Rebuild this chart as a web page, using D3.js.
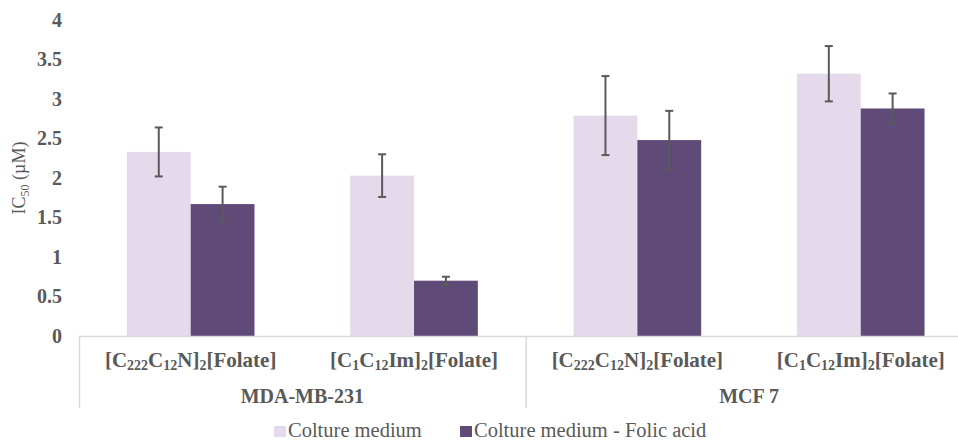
<!DOCTYPE html>
<html lang="en">
<head>
    <meta charset="UTF-8">
    <title>IC50 chart</title>
    <script src="https://d3js.org/d3.v7.min.js"></script>
    <style>
        body { margin: 0; background: #fff; font-family: "Liberation Serif", "Times New Roman", serif; }
        svg { display: block; }
    </style>
</head>
<body>
    <div id="chart"></div>
    <script>
        // Data
        const compounds = ["[C_{222}C_{12}N]_{2}[Folate]", "[C_{1}C_{12}Im]_{2}[Folate]",
                           "[C_{222}C_{12}N]_{2}[Folate]", "[C_{1}C_{12}Im]_{2}[Folate]"];
        const cellLines = ["MDA-MB-231", "MCF 7"];
        const series = ["Colture medium", "Colture medium - Folic acid"];
        const medium = [2.33, 2.03, 2.79, 3.32];
        const mediumErr = [0.31, 0.27, 0.50, 0.35];
        const folic = [1.67, 0.70, 2.48, 2.88];
        const folicErr = [0.22, 0.05, 0.37, 0.19];
        const yTicks = [0, 0.5, 1, 1.5, 2, 2.5, 3, 3.5, 4];

        const width = 958, height = 442;
        const colors = ["#e4daeb", "#5f4a78"];
        const textColor = "#595959";
        const lineColor = "#d9d9d9";

        const rows = compounds.map((c, i) => ({
            key: i, label: c, group: cellLines[Math.floor(i / 2)],
            values: [
                { s: 0, v: medium[i], e: mediumErr[i] },
                { s: 1, v: folic[i], e: folicErr[i] }
            ]
        }));

        const svg = d3.select("#chart").append("svg")
            .attr("width", width).attr("height", height);

        // plot area: left edge at 79, right edge runs off the window like the original
        const x0 = d3.scaleBand().domain(rows.map(d => d.key)).range([79, 972.4]).padding(0);
        const x1 = d3.scaleBand().domain([0, 1]).range([0, x0.bandwidth()])
            .paddingInner(0).paddingOuter(0.75);
        const y = d3.scaleLinear().domain([0, 4]).range([336, 20]);

        // y axis labels
        const yAxis = svg.append("g")
            .attr("transform", "translate(79,0)")
            .call(d3.axisLeft(y).tickValues(yTicks).tickSize(0).tickPadding(17).tickFormat(d3.format("")));
        yAxis.select(".domain").remove();
        yAxis.selectAll("text")
            .attr("fill", textColor)
            .style("font-family", "'Liberation Serif', serif")
            .style("font-size", "20px")
            .style("font-weight", "bold");

        // y title
        const yTitle = svg.append("text")
            .attr("transform", "translate(25," + y(2) + ") rotate(-90)")
            .attr("text-anchor", "middle")
            .attr("fill", textColor)
            .style("font-size", "18px");
        yTitle.append("tspan").text("IC");
        yTitle.append("tspan").attr("dy", 4).style("font-size", "12px").text("50");
        yTitle.append("tspan").attr("dy", -4).text(" (\u00b5M)");

        // bars
        const groups = svg.append("g").selectAll("g")
            .data(rows).join("g")
            .attr("transform", d => `translate(${x0(d.key)},0)`);

        groups.selectAll("rect")
            .data(d => d.values).join("rect")
            .attr("x", d => x1(d.s))
            .attr("y", d => y(d.v))
            .attr("width", x1.bandwidth())
            .attr("height", d => y(0) - y(d.v))
            .attr("fill", d => colors[d.s]);

        // error bars
        const err = groups.selectAll("g.err")
            .data(d => d.values).join("g")
            .attr("class", "err")
            .attr("stroke", "#5a5a5a")
            .attr("stroke-width", 2);
        err.append("line")
            .attr("x1", d => x1(d.s) + x1.bandwidth() / 2)
            .attr("x2", d => x1(d.s) + x1.bandwidth() / 2)
            .attr("y1", d => y(d.v + d.e))
            .attr("y2", d => y(d.v - d.e));
        [1, -1].forEach(sign => {
            err.append("line")
                .attr("x1", d => x1(d.s) + x1.bandwidth() / 2 - 4)
                .attr("x2", d => x1(d.s) + x1.bandwidth() / 2 + 4)
                .attr("y1", d => y(d.v + sign * d.e))
                .attr("y2", d => y(d.v + sign * d.e));
        });

        // category axis line
        svg.append("line")
            .attr("x1", x0.range()[0]).attr("x2", x0.range()[1])
            .attr("y1", y(0) + 0.5).attr("y2", y(0) + 0.5)
            .attr("stroke", lineColor).attr("stroke-width", 1.5);

        // group separators (multi-level axis)
        const bounds = [0, 2, 4].map(i => i < 4 ? x0(i) : x0.range()[1]);
        svg.selectAll("line.sep")
            .data(bounds).join("line")
            .attr("class", "sep")
            .attr("x1", d => d + 0.5).attr("x2", d => d + 0.5)
            .attr("y1", y(0)).attr("y2", 408)
            .attr("stroke", lineColor).attr("stroke-width", 1.5);

        // compound labels with subscripts
        function addLabel(sel, str) {
            const parts = str.split(/(_\{[^}]*\})/).filter(p => p.length);
            let down = false;
            parts.forEach(p => {
                const isSub = p.startsWith("_{");
                const t = sel.append("tspan");
                if (isSub) {
                    t.text(p.slice(2, -1)).style("font-size", "14px");
                    if (!down) { t.attr("dy", 3); down = true; }
                } else {
                    t.text(p);
                    if (down) { t.attr("dy", -3); down = false; }
                }
            });
        }

        svg.append("g").selectAll("text")
            .data(rows).join("text")
            .attr("x", d => x0(d.key) + x0.bandwidth() / 2)
            .attr("y", 367)
            .attr("text-anchor", "middle")
            .attr("fill", textColor)
            .style("font-size", "21px")
            .style("font-weight", "bold")
            .each(function (d) { addLabel(d3.select(this), d.label); });

        svg.append("g").selectAll("text")
            .data(cellLines).join("text")
            .attr("x", (d, i) => x0(i * 2 + 1))
            .attr("y", 403)
            .attr("text-anchor", "middle")
            .attr("fill", textColor)
            .style("font-size", "20px")
            .style("font-weight", "bold")
            .text(d => d);

        // legend
        const legendX = [274, 460];
        const legend = svg.append("g").selectAll("g")
            .data(series).join("g")
            .attr("transform", (d, i) => `translate(${legendX[i]},437)`);
        legend.append("rect")
            .attr("x", 0).attr("y", -11)
            .attr("width", 12).attr("height", 11)
            .attr("fill", (d, i) => colors[i]);
        legend.append("text")
            .attr("x", 14).attr("y", 0)
            .attr("fill", textColor)
            .style("font-size", "20.5px")
            .text(d => d);
    </script>
</body>
</html>
